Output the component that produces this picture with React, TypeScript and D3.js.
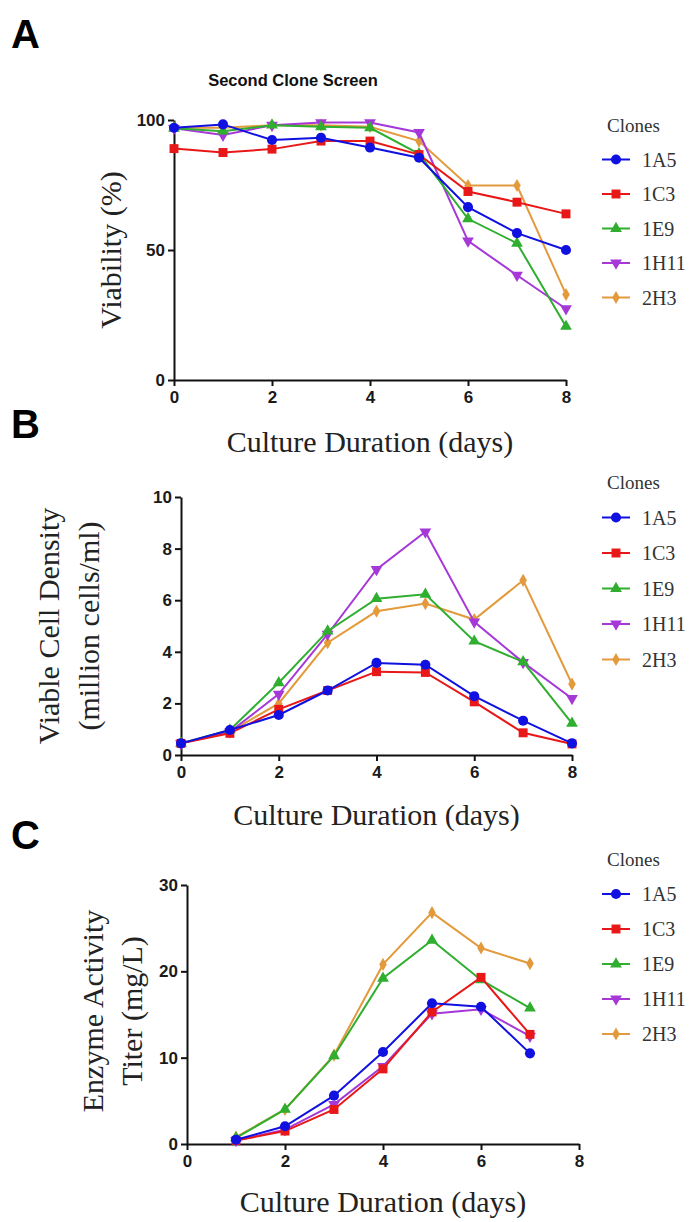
import React, { useEffect, useRef } from "react";
import * as d3 from "d3";

// shared
const clones = ["1A5", "1C3", "1E9", "1H11", "2H3"];
const cloneColors = ["#1010e0", "#e81818", "#2fae2f", "#a638d8", "#e39a3c"];
const days = [0, 1, 2, 3, 4, 5, 6, 7, 8];
const titerDays = [1, 2, 3, 4, 5, 6, 7];

// panel A - viability (%) per clone, days 0..8
const viability = [
  [97, 98.3, 92.3, 93.2, 89.4, 85.5, 66.5, 56.5, 50],
  [89, 87.5, 88.8, 91.9, 91.9, 86.7, 72.5, 68.4, 63.9],
  [96.8, 95.7, 98, 97.4, 97, 87, 62, 52.6, 20.6],
  [96.8, 94.2, 98, 99, 99, 95.2, 53.5, 40.3, 27.4],
  [97, 97, 98, 98, 97.4, 91.9, 74.8, 74.8, 32.9],
];

// panel B - viable cell density (million cells/ml), days 0..8
const density = [
  [0.45, 0.97, 1.55, 2.5, 3.57, 3.5, 2.28, 1.33, 0.45],
  [0.45, 0.84, 1.77, 2.5, 3.23, 3.2, 2.06, 0.86, 0.43],
  [0.45, 0.97, 2.8, 4.8, 6.06, 6.23, 4.41, 3.61, 1.23],
  [0.45, 0.9, 2.36, 4.68, 7.19, 8.65, 5.16, 3.59, 2.19],
  [0.45, 0.9, 2.0, 4.35, 5.57, 5.87, 5.25, 6.77, 2.75],
];

// panel C - enzyme activity titer (mg/L), days 1..7
const titer = [
  [0.5, 2.05, 5.6, 10.66, 16.3, 15.9, 10.5],
  [0.4, 1.5, 4.0, 8.7, 15.3, 19.3, 12.7],
  [0.7, 4.0, 10.2, 19.2, 23.6, 19.0, 15.75],
  [0.4, 1.66, 4.6, 9.0, 15.1, 15.6, 12.5],
  [0.8, 4.0, 10.3, 20.8, 26.8, 22.7, 20.9],
];

const xTicks = [0, 2, 4, 6, 8];
const yTicksA = [0, 50, 100];
const yTicksB = [0, 2, 4, 6, 8, 10];
const yTicksC = [0, 10, 20, 30];

const SANS = "'Liberation Sans', Arial, Helvetica, sans-serif";
const SERIF = "'Liberation Serif', 'Times New Roman', serif";

const symbolTypes = [d3.symbolCircle, d3.symbolSquare, d3.symbolTriangle, d3.symbolTriangle, d3.symbolDiamond];
const symbolSizes = [80, 80, 60, 60, 50];

const drawSymbol = (g, i, x, y) => {
  const rot = i === 3 ? 180 : 0;
  g.append("path")
    .attr("d", d3.symbol().type(symbolTypes[i]).size(symbolSizes[i])())
    .attr("transform", `translate(${x},${y}) rotate(${rot})`)
    .attr("fill", cloneColors[i]);
};

const App = () => {
  const ref = useRef(null);

  useEffect(() => {
    const svg = d3.select(ref.current);
    svg.selectAll("*").remove();

    const panels = [
      {
        letter: "A", letterY: 48,
        xr: [174, 566], yr: [380, 120], ymax: 100, yticks: yTicksA,
        xs: days, values: viability,
        xTitleY: 452, yTitle: ["Viability (%)"], yTitleX: [110], yTitleY: 250,
        legendY: 125, legendStep: 34.5,
      },
      {
        letter: "B", letterY: 438,
        xr: [181, 572], yr: [755, 497], ymax: 10, yticks: yTicksB,
        xs: days, values: density,
        xTitleY: 825, yTitle: ["Viable Cell Density", "(million cells/ml)"], yTitleX: [48, 88], yTitleY: 626,
        legendY: 482, legendStep: 35.5,
      },
      {
        letter: "C", letterY: 849,
        xr: [187, 579], yr: [1144, 885], ymax: 30, yticks: yTicksC,
        xs: titerDays, values: titer,
        xTitleY: 1212, yTitle: ["Enzyme Activity", "Titer (mg/L)"], yTitleX: [92, 131], yTitleY: 1011,
        legendY: 859, legendStep: 35,
      },
    ];

    svg.append("text")
      .attr("x", 293).attr("y", 86)
      .attr("text-anchor", "middle")
      .attr("font-family", SANS).attr("font-weight", "bold").attr("font-size", 16.5)
      .attr("fill", "#111")
      .text("Second Clone Screen");

    panels.forEach((p) => {
      const x = d3.scaleLinear().domain([0, 8]).range(p.xr);
      const y = d3.scaleLinear().domain([0, p.ymax]).range(p.yr);

      svg.append("text")
        .attr("x", 11).attr("y", p.letterY)
        .attr("font-family", SANS).attr("font-weight", "bold").attr("font-size", 40)
        .text(p.letter);

      const xAxis = svg.append("g")
        .attr("transform", `translate(0,${p.yr[0]})`)
        .call(d3.axisBottom(x).tickValues(xTicks).tickSize(6).tickPadding(5).tickSizeOuter(0));
      const yAxis = svg.append("g")
        .attr("transform", `translate(${p.xr[0]},0)`)
        .call(d3.axisLeft(y).tickValues(p.yticks).tickSize(6).tickPadding(3).tickSizeOuter(0));
      [xAxis, yAxis].forEach((a) => {
        a.select(".domain").attr("stroke", "#111").attr("stroke-width", 2);
        a.selectAll(".tick line").attr("stroke", "#111").attr("stroke-width", 2);
        a.selectAll("text")
          .attr("font-family", SANS).attr("font-weight", "bold").attr("font-size", 17)
          .attr("fill", "#1a1a1a");
      });

      svg.append("text")
        .attr("x", (p.xr[0] + p.xr[1]) / 2).attr("y", p.xTitleY)
        .attr("text-anchor", "middle")
        .attr("font-family", SERIF).attr("font-size", 30).attr("fill", "#222")
        .text("Culture Duration (days)");

      p.yTitle.forEach((t, k) => {
        svg.append("text")
          .attr("transform", `translate(${p.yTitleX[k]},${p.yTitleY}) rotate(-90)`)
          .attr("text-anchor", "middle").attr("dominant-baseline", "central")
          .attr("font-family", SERIF).attr("font-size", 30).attr("fill", "#222")
          .text(t);
      });

      const line = d3.line().x((d) => x(d[0])).y((d) => y(d[1]));
      // draw last clone first so 1A5 sits on top
      for (let i = clones.length - 1; i >= 0; i--) {
        const pts = p.values[i].map((v, j) => [p.xs[j], v]);
        const g = svg.append("g");
        g.append("path").datum(pts)
          .attr("fill", "none").attr("stroke", cloneColors[i]).attr("stroke-width", 2)
          .attr("d", line);
        pts.forEach((d) => drawSymbol(g, i, x(d[0]), y(d[1])));
      }

      // legend
      svg.append("text")
        .attr("x", 607).attr("y", p.legendY).attr("dominant-baseline", "central")
        .attr("font-family", SERIF).attr("font-size", 19).attr("fill", "#333")
        .text("Clones");
      clones.forEach((c, i) => {
        const ly = p.legendY + p.legendStep * (i + 1);
        const g = svg.append("g");
        g.append("line")
          .attr("x1", 602).attr("x2", 630).attr("y1", ly).attr("y2", ly)
          .attr("stroke", cloneColors[i]).attr("stroke-width", 2);
        drawSymbol(g, i, 616, ly);
        g.append("text")
          .attr("x", 642).attr("y", ly).attr("dominant-baseline", "central")
          .attr("font-family", SERIF).attr("font-size", 20).attr("fill", "#333")
          .text(c);
      });
    });
  }, []);

  return (
    <svg
      ref={ref}
      width={693}
      height={1222}
      style={{ position: "absolute", left: 0, top: 0, background: "#fff" }}
    ></svg>
  );
};

export default App;
